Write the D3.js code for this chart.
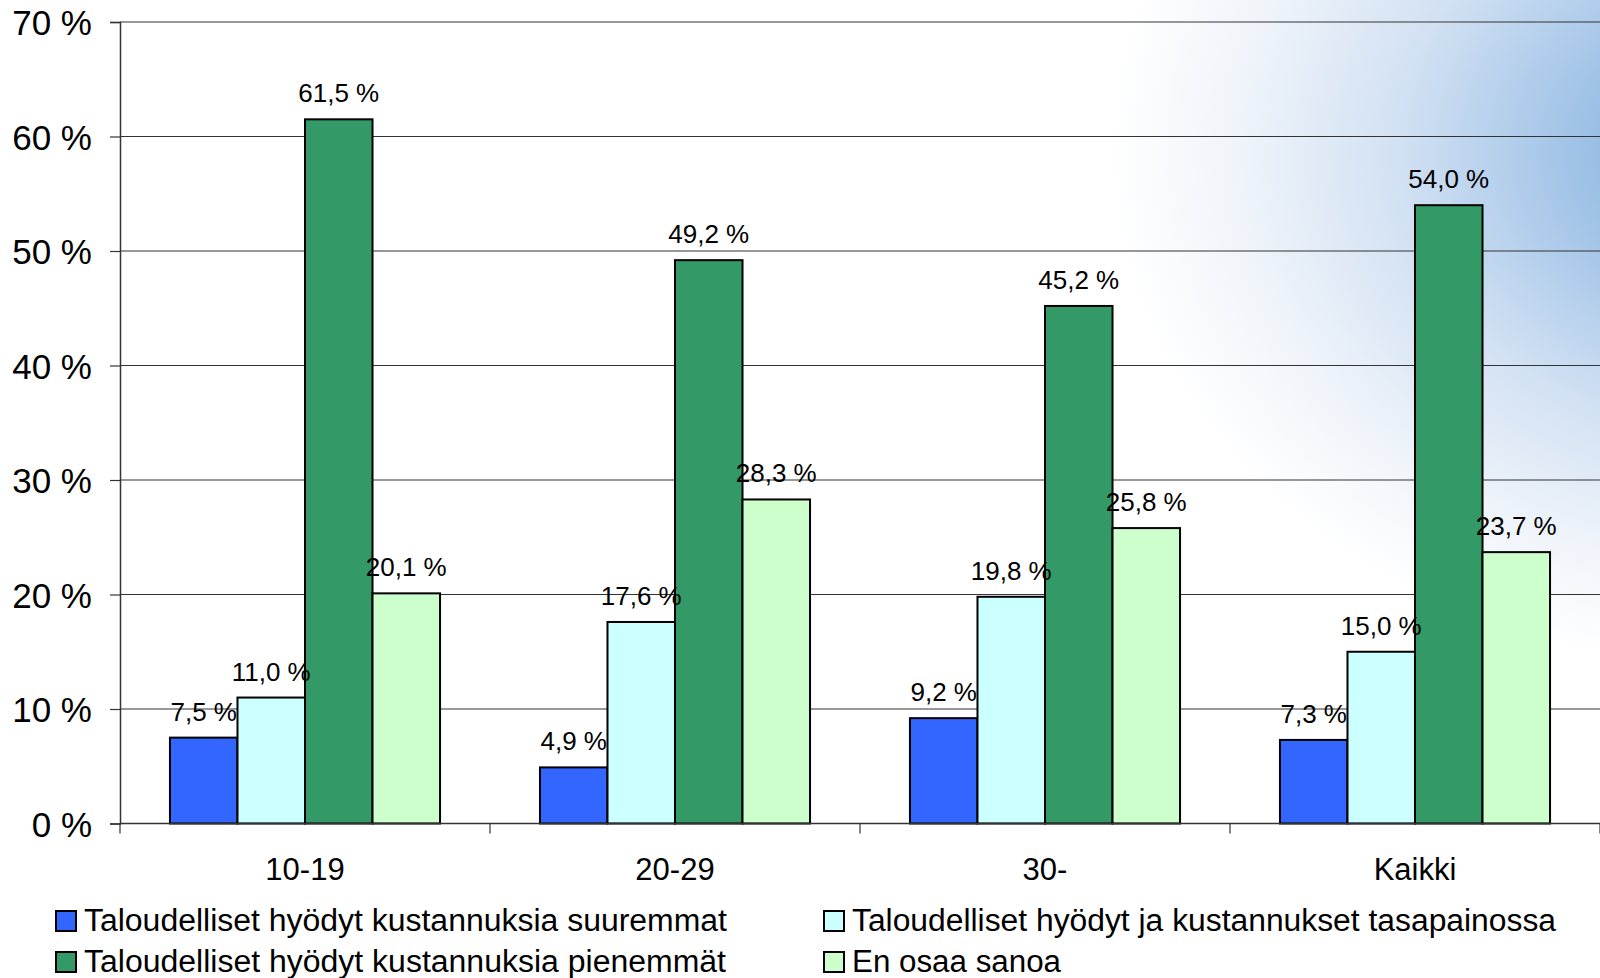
<!DOCTYPE html>
<html>
<head>
<meta charset="utf-8">
<script src="https://cdnjs.cloudflare.com/ajax/libs/d3/7.8.5/d3.min.js"></script>
<style>
  html, body { margin: 0; padding: 0; background: #fff; }
  svg { display: block; font-family: Arial, 'Liberation Sans', sans-serif; }
</style>
</head>
<body>
<div id="app"></div>
<script>
(function (d3) {
  'use strict'

  const categories = ['10-19', '20-29', '30-', 'Kaikki']
  const seriesNames = [
    'Taloudelliset hyödyt kustannuksia suuremmat',
    'Taloudelliset hyödyt ja kustannukset tasapainossa',
    'Taloudelliset hyödyt kustannuksia pienemmät',
    'En osaa sanoa'
  ]
  const suuremmat = [7.5, 4.9, 9.2, 7.3]
  const tasapainossa = [11.0, 17.6, 19.8, 15.0]
  const pienemmat = [61.5, 49.2, 45.2, 54.0]
  const enOsaa = [20.1, 28.3, 25.8, 23.7]
  const yTicks = [0, 10, 20, 30, 40, 50, 60, 70]
  const colors = ['#3366ff', '#ccffff', '#339966', '#ccffcc']

  const values = [suuremmat, tasapainossa, pienemmat, enOsaa]

  const w = 1600
  const h = 978
  const left = 120
  const right = 1600
  const top = 22
  const bottom = 823.5

  const svg = d3.select('#app')
    .append('svg')
    .attr('width', w)
    .attr('height', h)

  // background glow in the upper right corner
  const defs = svg.append('defs')
  const grad = defs.append('radialGradient')
    .attr('id', 'glow')
    .attr('gradientUnits', 'userSpaceOnUse')
    .attr('cx', 0).attr('cy', 0).attr('r', 1)
    .attr('gradientTransform', 'translate(1750,150) scale(640,520)')
  grad.append('stop').attr('offset', 0).attr('stop-color', '#78a8da')
  grad.append('stop').attr('offset', 0.25).attr('stop-color', '#9cc0e6')
  grad.append('stop').attr('offset', 0.55).attr('stop-color', '#d2e1f3')
  grad.append('stop').attr('offset', 0.8).attr('stop-color', '#eff4fa')
  grad.append('stop').attr('offset', 1).attr('stop-color', '#ffffff')

  svg.append('rect')
    .attr('width', w)
    .attr('height', h)
    .attr('fill', 'url(#glow)')

  const x = d3.scaleBand()
    .domain(categories)
    .range([left, right])
    .padding(0)

  const xs = d3.scaleBand()
    .domain(d3.range(seriesNames.length))
    .range([0, x.bandwidth()])
    .paddingInner(0)
    .paddingOuter(0.74)

  const y = d3.scaleLinear()
    .domain([0, 70])
    .range([bottom, top])

  // gridlines
  svg.append('g')
    .selectAll('line')
    .data(yTicks.filter(d => d > 0))
    .enter().append('line')
    .attr('x1', left)
    .attr('x2', w)
    .attr('y1', d => y(d))
    .attr('y2', d => y(d))
    .attr('stroke', '#333')
    .attr('stroke-width', 1.2)

  // y axis
  const yAxis = svg.append('g')
    .attr('transform', 'translate(' + left + ',0)')
    .call(d3.axisLeft(y).tickValues(yTicks).tickSize(10).tickPadding(18)
      .tickFormat(d => d + ' %'))
  yAxis.select('.domain').attr('stroke', '#333').attr('stroke-width', 1.5)
  yAxis.selectAll('.tick line').attr('stroke', '#333').attr('stroke-width', 1.2)
  yAxis.selectAll('.tick text')
    .attr('font-size', 35)
    .attr('font-family', "Arial, 'Liberation Sans', sans-serif")
    .attr('fill', '#000')
    .attr('dy', '0.36em')

  // bars
  const groups = svg.append('g')
    .selectAll('g')
    .data(categories)
    .enter().append('g')
    .attr('transform', d => 'translate(' + x(d) + ',0)')

  groups.selectAll('rect')
    .data((c, ci) => values.map((s, si) => ({ si: si, v: s[ci] })))
    .enter().append('rect')
    .attr('x', d => xs(d.si))
    .attr('y', d => y(d.v))
    .attr('width', xs.bandwidth())
    .attr('height', d => y(0) - y(d.v))
    .attr('fill', d => colors[d.si])
    .attr('stroke', '#000')
    .attr('stroke-width', 2)

  groups.selectAll('text')
    .data((c, ci) => values.map((s, si) => ({ si: si, v: s[ci] })))
    .enter().append('text')
    .attr('x', d => xs(d.si) + xs.bandwidth() / 2)
    .attr('y', d => y(d.v) - 17)
    .attr('text-anchor', 'middle')
    .attr('font-size', 26)
    .attr('fill', '#000')
    .text(d => d.v.toFixed(1).replace('.', ',') + ' %')

  // x axis
  const xAxis = svg.append('g')
    .attr('transform', 'translate(0,' + bottom + ')')
  xAxis.append('line')
    .attr('x1', left).attr('x2', w)
    .attr('stroke', '#333').attr('stroke-width', 1.5)
  xAxis.selectAll('line.tick')
    .data(categories.concat(['end']))
    .enter().append('line')
    .attr('class', 'tick')
    .attr('x1', (d, i) => left + i * x.step())
    .attr('x2', (d, i) => left + i * x.step())
    .attr('y1', 0).attr('y2', 10)
    .attr('stroke', '#333').attr('stroke-width', 1.2)
  xAxis.selectAll('text')
    .data(categories)
    .enter().append('text')
    .attr('x', d => x(d) + x.bandwidth() / 2)
    .attr('y', 56)
    .attr('text-anchor', 'middle')
    .attr('font-size', 31)
    .attr('fill', '#000')
    .text(d => d)

  // legend
  const legendPos = [
    { x: 56, y: 911, len: 643 },
    { x: 824, y: 911, len: 704 },
    { x: 56, y: 952, len: 642 },
    { x: 824, y: 952, len: 209 }
  ]
  const legend = svg.append('g')
    .selectAll('g')
    .data(seriesNames)
    .enter().append('g')
    .attr('transform', (d, i) => 'translate(' + legendPos[i].x + ',' + legendPos[i].y + ')')
  legend.append('rect')
    .attr('width', 20)
    .attr('height', 20)
    .attr('fill', (d, i) => colors[i])
    .attr('stroke', '#000')
    .attr('stroke-width', 2)
  legend.append('text')
    .attr('x', 28)
    .attr('y', 20)
    .attr('font-size', 31)
    .attr('fill', '#000')
    .attr('textLength', (d, i) => legendPos[i].len)
    .attr('lengthAdjust', 'spacingAndGlyphs')
    .text(d => d)

}(d3))
</script>
</body>
</html>
